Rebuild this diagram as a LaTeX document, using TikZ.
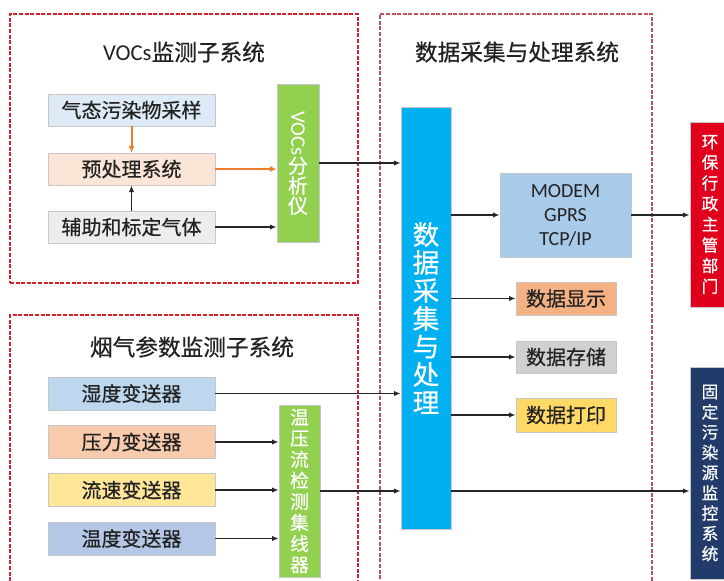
\documentclass[tikz,border=0pt]{standalone}
\usepackage{fontspec}
\setmainfont{Noto Sans CJK SC}[RawFeature={embolden=0.6}]
\newfontfamily\latf{Carlito}
\usetikzlibrary{arrows.meta}
\definecolor{framered}{HTML}{D9202E}
\definecolor{framegray}{HTML}{C0505A}
\definecolor{txt}{HTML}{222222}
\definecolor{gasfill}{HTML}{DEEBF7}
\definecolor{prefill}{HTML}{FBE5D6}
\definecolor{auxfill}{HTML}{EDEDED}
\definecolor{grn}{HTML}{92D050}
\definecolor{humfill}{HTML}{BDD7EE}
\definecolor{presfill}{HTML}{F8CBAD}
\definecolor{flowfill}{HTML}{FFE699}
\definecolor{tempfill}{HTML}{B4C7E7}
\definecolor{procfill}{HTML}{00B0F0}
\definecolor{modemfill}{HTML}{A9CBEA}
\definecolor{dispfill}{HTML}{F4B183}
\definecolor{storfill}{HTML}{D0D0D0}
\definecolor{prntfill}{HTML}{FFD966}
\definecolor{redfill}{HTML}{E0001B}
\definecolor{bluefill}{HTML}{223B6B}
\definecolor{orng}{HTML}{ED7D31}
\begin{document}
\begin{tikzpicture}[x=0.75pt,y=-0.75pt,
  frameA/.style={draw=framered,dash pattern=on 3pt off 1.2pt,line width=1.1pt,inner sep=0pt},
  frameB/.style={draw=framegray,dash pattern=on 3pt off 1.2pt,line width=1.1pt,inner sep=0pt},
  ttl/.style={font=\fontsize{17}{20}\selectfont,text=txt,inner sep=0pt},
  box/.style={draw=black!22,line width=0.5pt,inner sep=0pt,font=\fontsize{15}{18}\selectfont,text=txt},
  vbox/.style={draw=black!22,line width=0.5pt,inner sep=0pt,text=white,align=center},
  arr/.style={-{Latex[length=5pt,width=4pt]},line width=1pt,black!85},
  oarr/.style={-{Latex[length=5pt,width=4.5pt]},line width=1.5pt,orng}]
\useasboundingbox (0,0) rectangle (724,581);
\clip (0,0) rectangle (724,581);
\fill[white] (0,0) rectangle (724,581);

% frames
\node[frameA,minimum width=261pt,minimum height=201.75pt] (frVOC) at (184,148.5) {};
\node[frameA,minimum width=261pt,minimum height=213.75pt] (frSmk) at (184,457.5) {};
\node[frameB,minimum width=204pt,minimum height=439.5pt] (frDat) at (516,307) {};

% titles
\node[ttl] (tVOC) at (184,52) {{\latf\fontsize{17}{20}\selectfont VOCs}监测子系统};
\node[ttl] (tSmk) at (192,347) {烟气参数监测子系统};
\node[ttl] (tDat) at (517,52) {数据采集与处理系统};

% VOCs subsystem
\node[box,fill=gasfill,minimum width=125.25pt,minimum height=24pt] (gas) at (131.5,110) {气态污染物采样};
\node[box,fill=prefill,minimum width=125.25pt,minimum height=24pt] (pre) at (131.5,169) {预处理系统};
\node[box,fill=auxfill,minimum width=125.25pt,minimum height=24pt] (aux) at (131.5,227) {辅助和标定气体};
\node[vbox,fill=grn,minimum width=31.5pt,minimum height=118.5pt,font=\fontsize{15}{15}\selectfont] (ana) at (298,163)
  {\rotatebox{-90}{\latf\fontsize{15.5}{15}\selectfont VOCs}\\分\\析\\仪};

% smoke subsystem
\node[box,fill=humfill,minimum width=125.25pt,minimum height=24.75pt] (hum) at (131.5,393.5) {湿度变送器};
\node[box,fill=presfill,minimum width=125.25pt,minimum height=24.75pt] (pres) at (131.5,442) {压力变送器};
\node[box,fill=flowfill,minimum width=125.25pt,minimum height=24.75pt] (flow) at (131.5,490) {流速变送器};
\node[box,fill=tempfill,minimum width=125.25pt,minimum height=24.75pt] (temp) at (131.5,538.5) {温度变送器};
\node[vbox,fill=grn,minimum width=30.75pt,minimum height=129pt,font=\fontsize{14}{15.8}\selectfont] (hub) at (299.5,491)
  {温\\压\\流\\检\\测\\集\\线\\器};

% data processing
\node[vbox,fill=procfill,minimum width=37.5pt,minimum height=316.5pt,font=\fontsize{20}{21}\selectfont] (proc) at (426,318)
  {数\\据\\采\\集\\与\\处\\理};
\node[box,fill=modemfill,minimum width=98.25pt,minimum height=63pt,align=center,font=\latf\fontsize{15}{18}\selectfont] (modem) at (565.5,215)
  {MODEM\\GPRS\\TCP/IP};
\node[box,fill=dispfill,minimum width=75pt,minimum height=24.75pt] (disp) at (566,298.5) {数据显示};
\node[box,fill=storfill,minimum width=75pt,minimum height=24pt] (stor) at (566,357) {数据存储};
\node[box,fill=prntfill,minimum width=75pt,minimum height=25.5pt] (prnt) at (566,415) {数据打印};

% right side
\node[vbox,fill=redfill,minimum width=30pt,minimum height=138.75pt,font=\fontsize{12.5}{15.5}\selectfont] (red) at (710,214.5)
  {环\\保\\行\\政\\主\\管\\部\\门};
\node[vbox,fill=bluefill,minimum width=30pt,minimum height=159pt,font=\fontsize{12.5}{15.2}\selectfont] (blue) at (710,473)
  {固\\定\\污\\染\\源\\监\\控\\系\\统};

% connectors
\draw[oarr] (gas.south) -- (pre.north);
\draw[oarr] (pre.east) -- (pre.east -| ana.west);
\draw[arr] (aux.north) -- (pre.south);
\draw[arr] (aux.east) -- (aux.east -| ana.west);
\draw[arr] (ana.east) -- (ana.east -| proc.west);
\draw[arr] (hum.east) -- (hum.east -| proc.west);
\draw[arr] (pres.east) -- (pres.east -| hub.west);
\draw[arr] (flow.east) -- (flow.east -| hub.west);
\draw[arr] (temp.east) -- (temp.east -| hub.west);
\draw[arr] (hub.east) -- (hub.east -| proc.west);
\draw[arr] (hub.east -| proc.east) -- (hub.east -| blue.west);
\draw[arr] (modem.west -| proc.east) -- (modem.west);
\draw[arr] (modem.east) -- (modem.east -| red.west);
\draw[arr] (disp.west -| proc.east) -- (disp.west);
\draw[arr] (stor.west -| proc.east) -- (stor.west);
\draw[arr] (prnt.west -| proc.east) -- (prnt.west);
\end{tikzpicture}
\end{document}
